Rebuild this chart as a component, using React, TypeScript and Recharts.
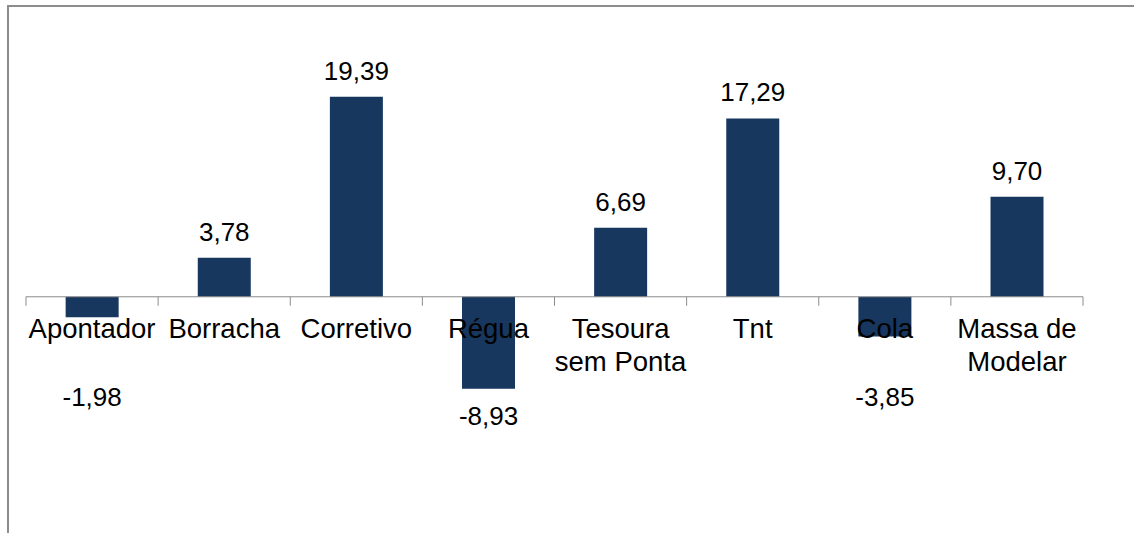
import React from "react";
import { BarChart, Bar, XAxis, YAxis, ReferenceLine, LabelList } from "recharts";

const categories = [
  "Apontador",
  "Borracha",
  "Corretivo",
  "Régua",
  "Tesoura sem Ponta",
  "Tnt",
  "Cola",
  "Massa de Modelar",
];
const values = [-1.98, 3.78, 19.39, -8.93, 6.69, 17.29, -3.85, 9.7];
const domainY: [number, number] = [-20, 25];

const data = categories.map((name, i) => ({ name, value: values[i] }));

const W = 1134;
const H = 533;
const XAXIS_H = 30;
const M = { top: 39, right: 51, bottom: 0, left: 26 };
const PLOT_W = W - M.left - M.right;
const PLOT_H = H - M.top - M.bottom - XAXIS_H;
const ZERO_Y = M.top + (PLOT_H * domainY[1]) / (domainY[1] - domainY[0]);
const BAND = PLOT_W / categories.length;

const FONT = "'Liberation Sans', Arial, sans-serif";
const BAR_COLOR = "#17375E";
const AXIS_COLOR = "#8c8c8c";

function wrap(text: string, maxChars: number): string[] {
  const words = text.split(" ");
  const lines: string[] = [];
  let cur = "";
  for (const w of words) {
    const next = cur ? cur + " " + w : w;
    if (next.length > maxChars && cur) {
      lines.push(cur);
      cur = w;
    } else {
      cur = next;
    }
  }
  if (cur) lines.push(cur);
  return lines;
}

const fmt = (v: number) => v.toFixed(2).replace(".", ",");

const CategoryTick = (props: any) => {
  const { x, payload, index } = props;
  const lines = wrap(String(payload.value), 10);
  const left = x - BAND / 2;
  const right = x + BAND / 2;
  return (
    <g>
      <line x1={left} x2={left} y1={ZERO_Y} y2={ZERO_Y + 9} stroke={AXIS_COLOR} strokeWidth={1} />
      {index === categories.length - 1 && (
        <line x1={right} x2={right} y1={ZERO_Y} y2={ZERO_Y + 9} stroke={AXIS_COLOR} strokeWidth={1} />
      )}
      <text
        x={x}
        y={ZERO_Y + 41}
        textAnchor="middle"
        fontFamily={FONT}
        fontSize={27.5}
        fill="#000"
      >
        {lines.map((l, i) => (
          <tspan key={i} x={x} dy={i === 0 ? 0 : 33.5}>
            {l}
          </tspan>
        ))}
      </text>
    </g>
  );
};

const ValueLabel = (props: any) => {
  const { x, y, width, height, value } = props;
  const top = Math.min(y, y + height);
  const bottom = Math.max(y, y + height);
  const cx = x + width / 2;
  let cy: number;
  if (value >= 0) {
    cy = top - 26;
  } else {
    cy = Math.max(bottom + 27, ZERO_Y + 100);
  }
  return (
    <text
      x={cx}
      y={cy + 9}
      textAnchor="middle"
      fontFamily={FONT}
      fontSize={26}
      fill="#000"
    >
      {fmt(value)}
    </text>
  );
};

export default function App() {
  return (
    <div
      style={{
        position: "absolute",
        left: 0,
        top: 0,
        width: W,
        height: H,
        overflow: "hidden",
        background: "#fff",
      }}
    >
      <div
        style={{
          position: "absolute",
          left: 7,
          top: 5,
          width: 2000,
          height: 2000,
          borderTop: `2px solid ${AXIS_COLOR}`,
          borderLeft: `2px solid ${AXIS_COLOR}`,
        }}
      />
      <div style={{ position: "absolute", left: 0, top: 0 }}>
        <BarChart width={W} height={H} data={data} margin={M} barCategoryGap="30%">
          <YAxis hide domain={domainY} type="number" allowDataOverflow />
          <Bar dataKey="value" fill={BAR_COLOR} isAnimationActive={false}>
            <LabelList dataKey="value" content={<ValueLabel />} />
          </Bar>
          <ReferenceLine y={0} stroke={AXIS_COLOR} strokeWidth={1} ifOverflow="extendDomain" />
          <XAxis
            dataKey="name"
            height={XAXIS_H}
            axisLine={false}
            tickLine={false}
            interval={0}
            tick={<CategoryTick />}
          />
        </BarChart>
      </div>
    </div>
  );
}
